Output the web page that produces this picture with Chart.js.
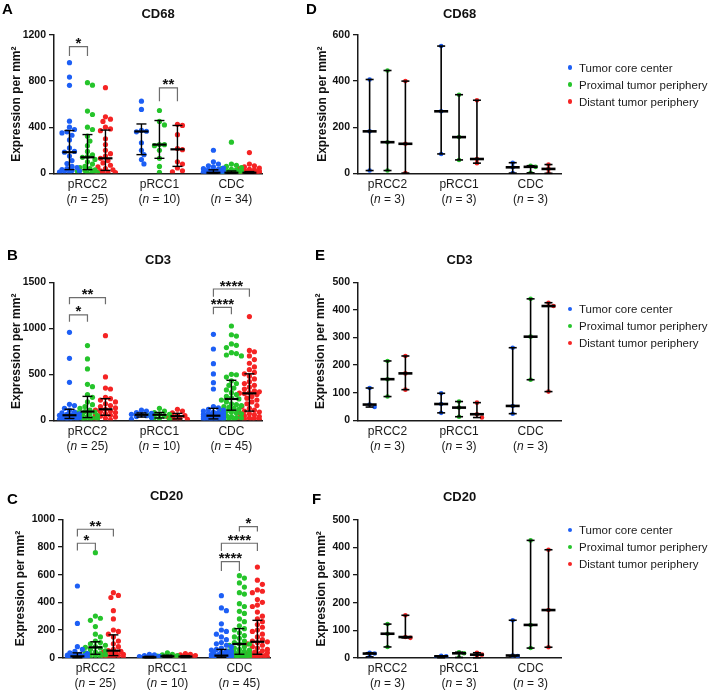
<!DOCTYPE html>
<html>
<head>
<meta charset="utf-8">
<title>Immune cell density by tumour region</title>
<script src="https://cdn.jsdelivr.net/npm/chart.js@4.4.1/dist/chart.umd.min.js"></script>
<style>
  body { margin: 0; background: #fff; font-family: Arial, 'Liberation Sans', Helvetica, sans-serif; }
  #figure { position: relative; width: 709px; height: 692px; overflow: hidden; background: #fff; }
  #figure canvas { position: absolute; }
  .panel-letter { position: absolute; font-weight: bold; font-size: 15px; line-height: 15px; color: #000; }
  .legend-row { position: absolute; font-size: 11.5px; line-height: 14px; color: #1a1a1a; white-space: nowrap; }
  .legend-dot { position: absolute; width: 4.6px; height: 4.6px; border-radius: 50%; }
</style>
</head>
<body>
<div id="figure"></div>
<script>
// groups on the x axis and the three sampled tumour regions
const groups = ['pRCC2', 'pRCC1', 'CDC'];
const regions = ['Tumor core center', 'Proximal tumor periphery', 'Distant tumor periphery'];
const regionColors = ['#1d5ff5', '#25c42b', '#f52424'];

// patients per group
const cd68N = [25, 10, 34];
const cd3N = [25, 10, 45];
const cd20N = [25, 10, 45];
const caseN = [3, 3, 3];

// ---- A: CD68, whole cohort. each group holds [core, proximal, distant]
const cd68_pRCC2 = [
  [960, 835, 763, 452, 400, 380, 360, 350, 330, 290, 220, 190, 183, 150, 110, 85, 60, 50, 40, 32, 25, 20, 15, 10, 5],
  [786, 765, 540, 510, 400, 380, 322, 280, 240, 190, 160, 145, 139, 120, 100, 80, 60, 50, 40, 30, 25, 18, 12, 6, 2],
  [743, 490, 470, 450, 400, 385, 370, 300, 250, 200, 170, 150, 130, 110, 90, 70, 55, 40, 30, 22, 15, 10, 6, 3, 1]
];
const cd68_pRCC1 = [
  [626, 554, 372, 365, 360, 265, 200, 162, 119, 81],
  [545, 450, 420, 250, 248, 240, 200, 130, 60, 8],
  [425, 415, 335, 215, 205, 100, 80, 46, 22, 12]
];
const cd68_CDC = [
  [200, 100, 80, 65, 55, 45, 40, 35, 30, 28, 25, 20, 18, 15, 12, 10, 8, 6, 5, 5, 4, 3, 3, 2, 2, 1, 1, 1, 0, 0, 0, 0, 0, 0],
  [270, 80, 70, 60, 50, 40, 35, 30, 25, 20, 18, 15, 12, 10, 8, 6, 5, 5, 4, 4, 3, 3, 2, 2, 1, 1, 1, 0, 0, 0, 0, 0, 0, 0],
  [180, 80, 65, 55, 45, 40, 35, 30, 25, 20, 18, 15, 12, 10, 8, 7, 6, 5, 5, 4, 3, 3, 2, 2, 1, 1, 1, 0, 0, 0, 0, 0, 0, 0]
];
const cd68Median = [[183, 139, 130], [363, 249, 208], [5, 5, 5]];
const cd68Q1 = [[32, 32, 25], [162, 130, 60], [0, 0, 0]];
const cd68Q3 = [[371, 336, 375], [428, 458, 415], [30, 20, 15]];
// [group, region from, region to, bracket height, leg end, label]
const cd68Sig = [[0, 0, 1, 1099, 1018, '*'], [1, 1, 2, 742, 626, '**']];

// ---- B: CD3, whole cohort
const cd3_pRCC2 = [
  [956, 674, 413, 174, 160, 130, 110, 90, 80, 70, 65, 60, 55, 50, 45, 40, 35, 30, 25, 20, 15, 12, 10, 5, 2],
  [812, 667, 558, 391, 366, 280, 250, 200, 170, 150, 130, 110, 95, 90, 80, 70, 60, 50, 40, 30, 25, 20, 15, 10, 5],
  [920, 471, 350, 340, 250, 235, 220, 200, 180, 160, 150, 135, 120, 110, 100, 95, 85, 70, 60, 55, 45, 35, 25, 15, 5]
];
const cd3_pRCC1 = [
  [110, 100, 85, 75, 65, 60, 50, 40, 30, 10],
  [130, 100, 85, 70, 65, 55, 45, 30, 20, 10],
  [120, 100, 80, 60, 50, 40, 30, 20, 10, 5]
];
const cd3_CDC = [
  [935, 775, 616, 504, 409, 340, 150, 135, 120, 110, 100, 90, 85, 80, 75, 70, 65, 60, 58, 55, 53, 52, 50, 48, 45, 42, 40, 38, 35, 32, 30, 28, 25, 22, 20, 18, 15, 12, 10, 8, 6, 5, 3, 2, 0],
  [1025, 930, 915, 830, 815, 790, 735, 725, 710, 700, 500, 495, 470, 430, 400, 380, 350, 330, 300, 280, 260, 245, 232, 220, 200, 180, 170, 160, 150, 140, 130, 120, 110, 100, 90, 80, 70, 60, 50, 40, 30, 25, 20, 10, 5],
  [1127, 760, 745, 700, 660, 620, 580, 550, 520, 505, 480, 450, 420, 400, 380, 360, 340, 320, 310, 300, 295, 290, 280, 260, 240, 220, 200, 180, 160, 150, 130, 110, 100, 90, 80, 70, 60, 50, 40, 30, 25, 20, 15, 10, 5]
];
const cd3Median = [[55, 95, 120], [60, 60, 45], [50, 232, 293]];
const cd3Q1 = [[20, 30, 55], [35, 25, 15], [15, 110, 100]];
const cd3Q3 = [[120, 260, 235], [80, 85, 75], [130, 435, 505]];
const cd3Sig = [[0, 0, 1, 1145, 1072, '*'], [0, 0, 2, 1333, 1261, '**'], [2, 0, 1, 1228, 1152, '****'], [2, 0, 2, 1427, 1344, '****']];

// ---- C: CD20, whole cohort
const cd20_pRCC2 = [
  [518, 248, 80, 60, 45, 35, 30, 25, 20, 18, 15, 12, 10, 8, 6, 5, 4, 3, 2, 2, 1, 1, 0, 0, 0],
  [759, 301, 285, 270, 225, 170, 150, 120, 110, 100, 90, 80, 75, 70, 60, 50, 40, 35, 30, 25, 20, 15, 10, 5, 0],
  [470, 450, 435, 340, 280, 200, 190, 170, 150, 120, 100, 80, 60, 51, 45, 40, 35, 30, 25, 20, 15, 10, 5, 2, 0]
];
const cd20_pRCC1 = [
  [25, 20, 15, 10, 8, 5, 3, 2, 1, 0],
  [35, 25, 20, 15, 12, 10, 8, 5, 3, 1],
  [30, 25, 20, 15, 10, 8, 5, 3, 2, 0]
];
const cd20_CDC = [
  [448, 360, 340, 245, 200, 190, 170, 150, 130, 110, 100, 90, 80, 70, 60, 55, 50, 45, 40, 35, 30, 28, 25, 22, 20, 18, 15, 12, 10, 8, 6, 5, 4, 3, 3, 2, 2, 1, 1, 0, 0, 0, 0, 0, 0],
  [593, 575, 540, 510, 470, 460, 390, 370, 335, 320, 280, 260, 230, 210, 200, 180, 160, 150, 140, 120, 110, 100, 99, 90, 80, 70, 60, 55, 50, 45, 40, 35, 30, 25, 20, 15, 12, 10, 8, 5, 3, 2, 1, 0, 0],
  [655, 560, 530, 490, 480, 470, 420, 400, 380, 370, 330, 300, 280, 260, 240, 220, 200, 190, 170, 150, 130, 120, 115, 110, 100, 90, 80, 70, 60, 50, 45, 40, 35, 30, 25, 20, 15, 12, 10, 8, 5, 3, 2, 1, 0]
];
const cd20Median = [[10, 75, 51], [3, 10, 8], [15, 99, 115]];
const cd20Q1 = [[0, 25, 15], [0, 3, 2], [3, 25, 25]];
const cd20Q3 = [[35, 115, 165], [10, 18, 15], [60, 210, 270]];
const cd20Sig = [[0, 0, 1, 827, 774, '*'], [0, 0, 2, 928, 875, '**'], [2, 0, 1, 694, 627, '****'], [2, 0, 2, 827, 771, '****'], [2, 1, 2, 947, 911, '*']];

// ---- D/E/F: three cases per group, [core, proximal, distant]
const cd68Case_pRCC2 = [[407, 182, 12], [446, 135, 12], [400, 128, 1]];
const cd68Case_pRCC1 = [[552, 269, 84], [341, 157, 58], [317, 62, 44]];
const cd68Case_CDC = [[46, 26, 1], [33, 28, 2], [38, 19, 0]];
const cd3Case_pRCC2 = [[117, 57, 48], [215, 149, 86], [233, 170, 111]];
const cd3Case_pRCC1 = [[98, 59, 27], [68, 46, 13], [64, 22, 10]];
const cd3Case_CDC = [[263, 52, 24], [440, 303, 147], [426, 414, 104]];
const cd20Case_pRCC2 = [[18, 15, 3], [122, 87, 39], [154, 75, 72]];
const cd20Case_pRCC1 = [[7, 5, 0], [20, 16, 1], [18, 11, 0]];
const cd20Case_CDC = [[136, 8, 6], [426, 119, 35], [392, 173, 38]];

const FONT = "Arial, 'Liberation Sans', Helvetica, sans-serif";
Chart.defaults.font.family = FONT;
Chart.defaults.color = '#111';

const GROUP_GAP = 4;
const REGION_SHIFT = [-1, 0, 1];
const xOf = (g, r) => g * GROUP_GAP + REGION_SHIFT[r];

const sortedMid = a => [...a].sort((p, q) => p - q)[Math.floor(a.length / 2)];
const perCell = (data, fn) => data.map(grp => grp.map(fn));

// spread overlapping dots sideways (scatter dot plot), offsets worked out in pixels
const swarm = (values, centre, pxX, pxY, dot) => {
  const placed = [];
  return values.map(v => {
    const py = v * pxY;
    let best = 0, bestGap = -1;
    for (let k = 0; k <= dot.slots * 2; k++) {
      const slot = k === 0 ? 0 : (k % 2 ? (k + 1) / 2 : -k / 2);
      const px = slot * dot.step;
      let gap = Infinity;
      placed.forEach(p => { gap = Math.min(gap, Math.hypot(p.px - px, p.py - py)); });
      if (gap >= dot.gap) { best = px; bestGap = gap; break; }
      if (gap > bestGap) { bestGap = gap; best = px; }
    }
    placed.push({ px: best, py });
    return { x: centre + best / pxX, y: v };
  });
};

const cohortDot = { radius: 2.6, gap: 5, step: 2.5, slots: 4 };
const caseDot = { radius: 2.3, gap: 4, step: 5, slots: 2 };
const cohortBar = { whisker: 1.4, cap: 5, median: 7, medianWidth: 2.2 };
const caseBar = { whisker: 1.6, cap: 4, median: 7, medianWidth: 2.6 };

const caseStats = data => ({
  median: perCell(data, sortedMid),
  low: perCell(data, v => Math.min(...v)),
  high: perCell(data, v => Math.max(...v))
});

// layout of the six panels, page pixels
const panels = [
  { letter: 'A', letterPos: [2, 1], title: 'CD68', box: [0, 0, 290, 230], axisLeft: 54, plotRight: 262, plotTop: 35, plotBottom: 173.3, titleY: 14, yTitleX: 17,
    yMax: 1200, step: 400, xMin: -1.86, xMax: 9.7, values: [cd68_pRCC2, cd68_pRCC1, cd68_CDC], counts: cd68N,
    stats: { median: cd68Median, low: cd68Q1, high: cd68Q3 }, sig: cd68Sig, dot: cohortDot, bar: cohortBar },
  { letter: 'B', letterPos: [7, 247], title: 'CD3', box: [0, 230, 290, 230], axisLeft: 54, plotRight: 262, plotTop: 282.3, plotBottom: 420.3, titleY: 260, yTitleX: 17,
    yMax: 1500, step: 500, xMin: -1.86, xMax: 9.7, values: [cd3_pRCC2, cd3_pRCC1, cd3_CDC], counts: cd3N,
    stats: { median: cd3Median, low: cd3Q1, high: cd3Q3 }, sig: cd3Sig, dot: cohortDot, bar: cohortBar },
  { letter: 'C', letterPos: [7, 491], title: 'CD20', box: [0, 460, 290, 232], axisLeft: 63, plotRight: 270, plotTop: 519.3, plotBottom: 657.7, titleY: 496.7, yTitleX: 21,
    yMax: 1000, step: 200, xMin: -1.8, xMax: 9.7, values: [cd20_pRCC2, cd20_pRCC1, cd20_CDC], counts: cd20N,
    stats: { median: cd20Median, low: cd20Q1, high: cd20Q3 }, sig: cd20Sig, dot: cohortDot, bar: cohortBar },
  { letter: 'D', letterPos: [306, 1], title: 'CD68', box: [290, 0, 419, 230], axisLeft: 358, plotRight: 561, plotTop: 35, plotBottom: 173.3, titleY: 14, yTitleX: 322.5,
    yMax: 600, step: 200, xMin: -1.65, xMax: 9.7, values: [cd68Case_pRCC2, cd68Case_pRCC1, cd68Case_CDC], counts: caseN,
    sig: [], dot: caseDot, bar: caseBar, legendY: 67.5 },
  { letter: 'E', letterPos: [315, 247], title: 'CD3', box: [290, 230, 419, 230], axisLeft: 358, plotRight: 561, plotTop: 282.3, plotBottom: 420.3, titleY: 260, yTitleX: 321,
    yMax: 500, step: 100, xMin: -1.65, xMax: 9.7, values: [cd3Case_pRCC2, cd3Case_pRCC1, cd3Case_CDC], counts: caseN,
    sig: [], dot: caseDot, bar: caseBar, legendY: 309 },
  { letter: 'F', letterPos: [312, 491], title: 'CD20', box: [290, 460, 419, 232], axisLeft: 358, plotRight: 561, plotTop: 520, plotBottom: 657.7, titleY: 497, yTitleX: 322,
    yMax: 500, step: 100, xMin: -1.65, xMax: 9.7, values: [cd20Case_pRCC2, cd20Case_pRCC1, cd20Case_CDC], counts: caseN,
    sig: [], dot: caseDot, bar: caseBar, legendY: 530 }
];

const figure = document.getElementById('figure');

const line = (ctx, x1, y1, x2, y2) => {
  ctx.beginPath(); ctx.moveTo(x1, y1); ctx.lineTo(x2, y2); ctx.stroke();
};

const makePanel = (p) => {
  const [bx, by, bw, bh] = p.box;
  const canvas = document.createElement('canvas');
  canvas.width = bw;
  canvas.height = bh;
  canvas.style.left = bx + 'px';
  canvas.style.top = by + 'px';
  figure.appendChild(canvas);

  const letter = document.createElement('div');
  letter.className = 'panel-letter';
  letter.textContent = p.letter;
  letter.style.left = p.letterPos[0] + 'px';
  letter.style.top = p.letterPos[1] + 'px';
  figure.appendChild(letter);

  const stats = p.stats || caseStats(p.values);
  const scaleLeft = p.yTitleX - 11.2;
  const pxX = (p.plotRight - p.axisLeft) / (p.xMax - p.xMin);
  const pxY = (p.plotBottom - p.plotTop) / p.yMax;

  const datasets = regions.map((name, r) => ({
    label: name,
    data: p.values.flatMap((grp, g) => swarm(grp[r], xOf(g, r), pxX, pxY, p.dot)),
    backgroundColor: regionColors[r],
    pointBackgroundColor: regionColors[r],
    pointRadius: p.dot.radius,
    pointBorderWidth: 0,
    showLine: false
  }));

  // medians, whiskers, significance brackets and two-line group labels
  const overlay = {
    id: 'overlay' + p.letter,
    afterDatasetsDraw(chart) {
      const { ctx, scales: { x, y } } = chart;
      ctx.save();
      ctx.strokeStyle = '#000';
      ctx.lineCap = 'butt';
      p.values.forEach((grp, g) => grp.forEach((vals, r) => {
        const cx = x.getPixelForValue(xOf(g, r));
        const lo = y.getPixelForValue(stats.low[g][r]);
        const hi = y.getPixelForValue(stats.high[g][r]);
        const md = y.getPixelForValue(stats.median[g][r]);
        ctx.lineWidth = p.bar.whisker;
        line(ctx, cx, lo, cx, hi);
        line(ctx, cx - p.bar.cap, lo, cx + p.bar.cap, lo);
        line(ctx, cx - p.bar.cap, hi, cx + p.bar.cap, hi);
        ctx.lineWidth = p.bar.medianWidth;
        line(ctx, cx - p.bar.median, md, cx + p.bar.median, md);
      }));

      p.sig.forEach(([g, r1, r2, top, leg, label]) => {
        const x1 = x.getPixelForValue(xOf(g, r1));
        const x2 = x.getPixelForValue(xOf(g, r2));
        const yt = y.getPixelForValue(top);
        const yl = y.getPixelForValue(leg);
        ctx.strokeStyle = '#6e6e6e';
        ctx.lineWidth = 1.2;
        ctx.beginPath();
        ctx.moveTo(x1, yl); ctx.lineTo(x1, yt); ctx.lineTo(x2, yt); ctx.lineTo(x2, yl);
        ctx.stroke();
        ctx.fillStyle = '#111';
        ctx.font = `bold 15px ${FONT}`;
        ctx.textAlign = 'center';
        ctx.textBaseline = 'alphabetic';
        ctx.fillText(label, (x1 + x2) / 2, yt + 1.5);
      });
      ctx.restore();
    },
    afterDraw(chart) {
      const { ctx, chartArea, scales: { x } } = chart;
      ctx.save();
      ctx.fillStyle = '#1a1a1a';
      ctx.textBaseline = 'middle';
      groups.forEach((name, g) => {
        const cx = x.getPixelForValue(xOf(g, 1));
        ctx.font = `12px ${FONT}`;
        ctx.textAlign = 'center';
        ctx.fillText(name, cx, chartArea.bottom + 11);
        const open = '(', tail = ` = ${p.counts[g]})`;
        const wOpen = ctx.measureText(open).width;
        const wTail = ctx.measureText(tail).width;
        ctx.font = `italic 12px ${FONT}`;
        const wN = ctx.measureText('n').width;
        let left = cx - (wOpen + wN + wTail) / 2;
        const ly = chartArea.bottom + 26;
        ctx.textAlign = 'left';
        ctx.font = `12px ${FONT}`;
        ctx.fillText(open, left, ly);
        left += wOpen;
        ctx.font = `italic 12px ${FONT}`;
        ctx.fillText('n', left, ly);
        left += wN;
        ctx.font = `12px ${FONT}`;
        ctx.fillText(tail, left, ly);
      });
      ctx.restore();
    }
  };

  new Chart(canvas, {
    type: 'scatter',
    data: { datasets },
    options: {
      responsive: false,
      animation: false,
      events: [],
      layout: { padding: { left: scaleLeft - bx, right: bx + bw - p.plotRight, top: 0, bottom: 0 } },
      plugins: {
        legend: { display: false },
        tooltip: { enabled: false },
        title: {
          display: true,
          text: p.title,
          fullSize: false,
          color: '#111',
          font: { size: 13, weight: 'bold' },
          padding: { top: p.titleY - by - 7.8, bottom: p.plotTop - p.titleY - 7.8 }
        }
      },
      scales: {
        x: {
          type: 'linear',
          min: p.xMin,
          max: p.xMax,
          ticks: { display: false },
          grid: { display: false },
          border: { color: '#1a1a1a', width: 1.5 },
          afterFit: s => { s.height = by + bh - p.plotBottom; }
        },
        y: {
          min: 0,
          max: p.yMax,
          ticks: { stepSize: p.step, color: '#111', font: { size: 10.5, weight: 'bold' }, padding: 3, callback: v => String(v) },
          grid: { drawOnChartArea: false, tickLength: 5, color: '#1a1a1a', lineWidth: 1.3 },
          border: { color: '#1a1a1a', width: 1.5 },
          title: { display: true, text: 'Expression per mm²', color: '#111', font: { size: 12, weight: 'bold' }, padding: { top: 4, bottom: 0 } },
          afterFit: s => { s.width = p.axisLeft - scaleLeft; }
        }
      }
    },
    plugins: [overlay]
  });

  // legend beside the case panels
  if (p.legendY !== undefined) {
    regions.forEach((name, r) => {
      const cy = p.legendY + r * 17;
      const row = document.createElement('div');
      row.className = 'legend-row';
      row.style.left = '579px';
      row.style.top = (cy - 7) + 'px';
      row.textContent = name;
      figure.appendChild(row);
      const dot = document.createElement('span');
      dot.className = 'legend-dot';
      dot.style.background = regionColors[r];
      dot.style.left = '567.7px';
      dot.style.top = (cy - 2.3) + 'px';
      figure.appendChild(dot);
    });
  }
};

panels.forEach(makePanel);
</script>
</body>
</html>
